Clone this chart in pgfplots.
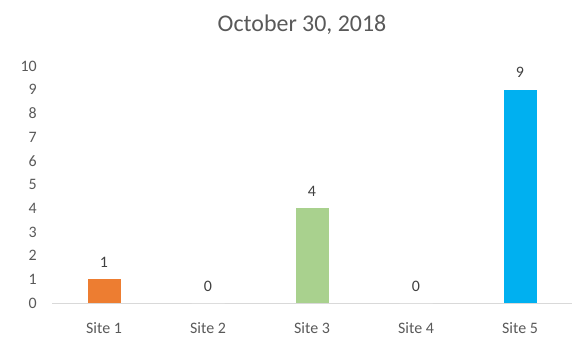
\documentclass[border=0pt]{standalone}
\usepackage{pgfplots}
\pgfplotsset{compat=1.18}
\usepackage{fontspec}
\setmainfont{Carlito}
\definecolor{cOrange}{HTML}{ED7D31}
\definecolor{cGreen}{HTML}{A9D18E}
\definecolor{cBlue}{HTML}{00B0F0}
\definecolor{cText}{HTML}{595959}
\definecolor{cLabel}{HTML}{404040}
\definecolor{cAxis}{HTML}{D9D9D9}
\begin{document}
\begin{tikzpicture}[x=1bp,y=1bp]
\useasboundingbox (0,0) rectangle (573,358);
\begin{axis}[
  at={(52bp,55bp)}, anchor=origin,
  scale only axis, width=520bp, height=237bp,
  xmin=0.5, xmax=5.5, ymin=0, ymax=10,
  ybar, bar width=33bp, bar shift=0pt,
  xtick={1,2,3,4,5},
  xticklabels={Site 1,Site 2,Site 3,Site 4,Site 5},
  ytick={0,1,...,10},
  axis x line*=bottom, axis y line*=left,
  x axis line style={draw=cAxis, line width=0.8pt, -},
  y axis line style={draw=none},
  tick style={draw=none},
  ticklabel style={font=\fontsize{16}{18}\selectfont, text=cText, inner sep=0pt},
  /pgf/number format/assume math mode=true,
  yticklabel style={anchor=east, xshift=-15bp},
  xticklabel style={anchor=base, yshift=-26bp},
  nodes near coords,
  nodes near coords style={font=\fontsize{16}{18}\selectfont, text=cLabel, anchor=base, inner sep=0pt, yshift=12bp},
  title={October 30, 2018},
  title style={font=\fontsize{24}{28}\selectfont, text=cText, at={(axis description cs:0.5,1)}, anchor=base, yshift=29bp, xshift=-10bp},
  clip=false,
]
\addplot[fill=cOrange, draw=none] coordinates {(1,1)};
\addplot[fill=white, draw=none] coordinates {(2,0)};
\addplot[fill=cGreen, draw=none] coordinates {(3,4)};
\addplot[fill=white, draw=none] coordinates {(4,0)};
\addplot[fill=cBlue, draw=none] coordinates {(5,9)};
\end{axis}
\end{tikzpicture}
\end{document}
